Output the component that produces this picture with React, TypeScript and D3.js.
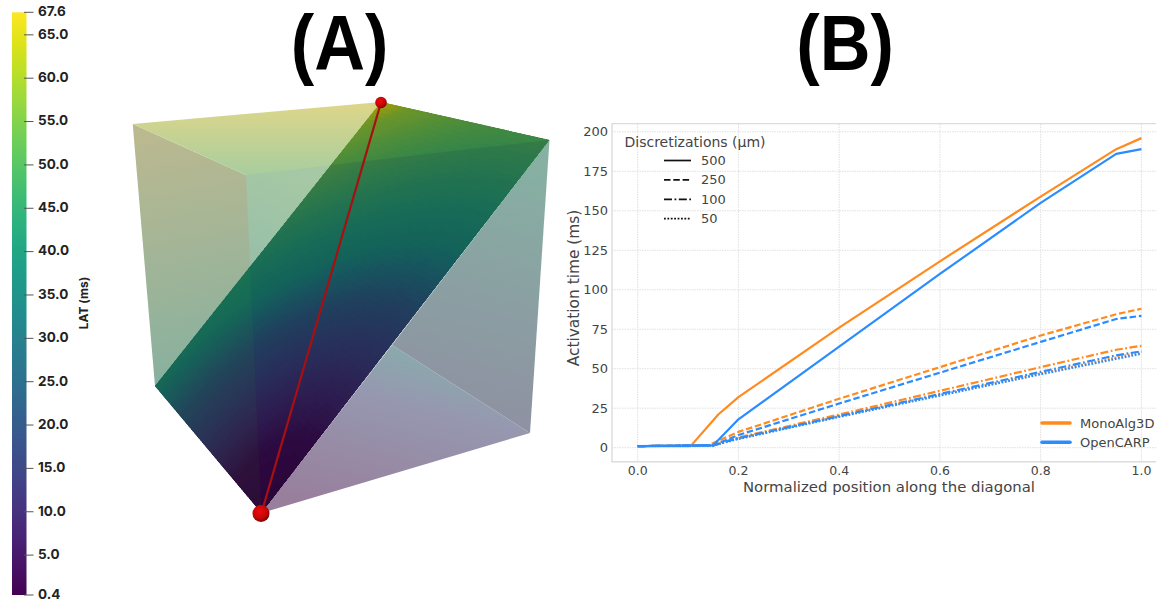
import React from "react";
import * as d3 from "d3";

// ---------- Panel B data ----------
const runs500M = [[0, 1], [0.105, 1], [0.16, 21], [0.2, 32], [0.4, 76], [0.6, 118], [0.8, 159], [0.95, 189], [1, 196]];
const runs500O = [[0, 1], [0.15, 1.5], [0.2, 18], [0.4, 64], [0.6, 110], [0.8, 155], [0.95, 186], [1, 189]];
const runs250M = [[0, 1], [0.14, 1.5], [0.2, 10], [0.4, 31], [0.6, 51], [0.8, 71], [0.95, 84.5], [1, 88]];
const runs250O = [[0, 1], [0.15, 1.5], [0.2, 8], [0.4, 28], [0.6, 47.5], [0.8, 67], [0.95, 81.5], [1, 83.5]];
const runs100M = [[0, 1], [0.15, 1.5], [0.2, 6.5], [0.4, 21], [0.6, 36], [0.8, 51], [0.95, 62], [1, 64.5]];
const runs100O = [[0, 1], [0.15, 1.5], [0.2, 6], [0.4, 20], [0.6, 34], [0.8, 48], [0.95, 58.5], [1, 61]];
const runs50M = [[0, 1], [0.15, 1.5], [0.2, 6], [0.4, 20], [0.6, 33.5], [0.8, 47], [1, 60.5]];
const runs50O = [[0, 1], [0.15, 1.5], [0.2, 5.5], [0.4, 19.5], [0.6, 33], [0.8, 46.5], [1, 59.5]];

const xTicks = [0, 0.2, 0.4, 0.6, 0.8, 1];
const yTicks = [0, 25, 50, 75, 100, 125, 150, 175, 200];
const discretizations = ["500", "250", "100", "50"];
const dashes = ["none", "6.5 2.8", "8 2.5 1.8 2.5", "1.8 1.6"];
const solvers = ["MonoAlg3D", "OpenCARP"];
const solverColors = ["#ff8a1e", "#2a8cff"];

// ---------- Panel A data ----------
const colorbarTicks = [67.6, 65, 60, 55, 50, 45, 40, 35, 30, 25, 20, 15, 10, 5, 0.4];
const latMin = 0.4;
const latMax = 67.6;
type P = [number, number];
const vLeftTop: P = [132.7, 124];
const vBackTop: P = [381, 102];
const vRightTop: P = [549.5, 140];
const vFrontTop: P = [246, 175];
const vLeftBottom: P = [155, 386];
const vBottom: P = [261.5, 513];
const vRightBottom: P = [530, 433];
const vBackBottom: P = [392, 345];
// activation delay: geometric distance on the slice -> colour-map position
const distanceStops = [0, 0.15, 0.44, 0.577, 0.816, 0.95, 1];
const colorStops = [0, 0.02, 0.3, 0.56, 0.74, 0.86, 1];

const pts = (a: P[]) => a.map((p) => p.join(",")).join(" ");

const xScale = d3.scaleLinear().domain([0, 1]).range([637.7, 1141.4]);
const yScale = d3.scaleLinear().domain([0, 200]).range([447.7, 131.8]);
const barScale = d3.scaleLinear().domain([latMin, latMax]).range([595, 12.3]);
const latColor = d3.scaleLinear().domain(distanceStops).range(colorStops);
const line = d3.line<number[]>().x((d) => xScale(d[0])).y((d) => yScale(d[1]));

const series = [
  { d: runs50M, s: 0, k: 3 }, { d: runs100M, s: 0, k: 2 }, { d: runs250M, s: 0, k: 1 }, { d: runs500M, s: 0, k: 0 },
  { d: runs50O, s: 1, k: 3 }, { d: runs100O, s: 1, k: 2 }, { d: runs250O, s: 1, k: 1 }, { d: runs500O, s: 1, k: 0 },
];

function sliceCells() {
  const n = 70;
  const cells: { points: string; fill: string }[] = [];
  const at = (a: number, b: number): P => {
    const top: P = [vLeftBottom[0] + (vBackTop[0] - vLeftBottom[0]) * b, vLeftBottom[1] + (vBackTop[1] - vLeftBottom[1]) * b];
    const bot: P = [vBottom[0] + (vRightTop[0] - vBottom[0]) * b, vBottom[1] + (vRightTop[1] - vBottom[1]) * b];
    return [bot[0] + (top[0] - bot[0]) * a, bot[1] + (top[1] - bot[1]) * a];
  };
  for (let i = 0; i < n; i++) {
    for (let j = 0; j < n; j++) {
      const a = (i + 0.5) / n;
      const b = (j + 0.5) / n;
      const t = Math.sqrt(a * a + 2 * b * b) / Math.sqrt(3);
      const c = d3.rgb(d3.interpolateViridis(latColor(t)));
      const k = 0.68;
      const fill = d3.rgb(c.r * k, c.g * k, c.b * k).formatHex();
      cells.push({
        points: pts([at(i / n, j / n), at((i + 1) / n, j / n), at((i + 1) / n, (j + 1) / n), at(i / n, (j + 1) / n)]),
        fill,
      });
    }
  }
  return cells;
}

const grad = (id: string, a: P, b: P, stops: [number, string][]) => (
  <linearGradient id={id} gradientUnits="userSpaceOnUse" x1={a[0]} y1={a[1]} x2={b[0]} y2={b[1]}>
    {stops.map(([o, c]) => (
      <stop key={o} offset={o} stopColor={c} />
    ))}
  </linearGradient>
);

const Title = ({ x, label }: { x: number; label: string }) => (
  <text transform={`translate(${x},69.5) scale(0.95,1.04)`} textAnchor="middle" fontFamily="Liberation Sans" fontWeight={700} fontSize={74} fill="#000">{label}</text>
);

export default function App() {
  const cells = sliceCells();
  const barStops = d3.range(0, 1.0001, 0.05);
  return (
    <svg width={1156} height={600} style={{ position: "absolute", left: 0, top: 0, background: "#fff" }}>
      <defs>
        <linearGradient id="bar" x1="0" y1="1" x2="0" y2="0">
          {barStops.map((t) => (
            <stop key={t} offset={t} stopColor={d3.interpolateViridis(t)} />
          ))}
        </linearGradient>
        {grad("fTop", [300, 105], [300, 178], [[0, "#dcd68a"], [1, "#a6cd9f"]])}
        {grad("fLeft", [140, 125], [190, 400], [[0, "#bdb98f"], [1, "#84b0a0"]])}
        {grad("fInner", [300, 175], [230, 320], [[0, "#a6c8a4"], [1, "#8fbaaa"]])}
        {grad("fBackR", [550, 150], [480, 430], [[0, "#86b2a2"], [1, "#8f90a2"]])}
        {grad("fBot", [300, 500], [340, 340], [[0, "#987f9c"], [0.73, "#9698b0"], [1, "#8ba8ac"]])}
        <radialGradient id="ball" cx="0.42" cy="0.38" r="0.62">
          <stop offset="0" stopColor="#ee0a0a" />
          <stop offset="0.65" stopColor="#c80606" />
          <stop offset="1" stopColor="#7a0404" />
        </radialGradient>
        <clipPath id="axesClip">
          <rect x={612} y={124} width={544} height={338} />
        </clipPath>
        <clipPath id="sliceClip">
          <polygon points={pts([vBottom, vLeftBottom, vBackTop, vRightTop])} />
        </clipPath>
      </defs>

      {/* Titles */}
      <Title x={339.5} label="(A)" />
      <Title x={845} label="(B)" />

      {/* Colour bar */}
      <rect x={12} y={barScale(latMax)} width={14.5} height={barScale(latMin) - barScale(latMax)} fill="url(#bar)" />
      {colorbarTicks.map((v) => (
        <g key={v}>
          <line x1={24} x2={33.5} y1={barScale(v)} y2={barScale(v)} stroke="#555" strokeWidth={1} />
          <text x={38} y={barScale(v) - 1} dy="0.36em" textAnchor="start" fontFamily="Inter" fontWeight={700} fontSize={13.5} fill="#222">{v.toFixed(1)}</text>
        </g>
      ))}
      <text transform="translate(88,303) rotate(-90)" textAnchor="middle" fontFamily="Inter" fontWeight={700} fontSize={12} fill="#222">LAT (ms)</text>

      {/* Cube: back faces, slice, front faces */}
      <polygon points={pts([vBottom, vRightBottom, vBackBottom])} fill="url(#fBot)" />
      <polygon points={pts([vBackBottom, vRightBottom, vRightTop])} fill="url(#fBackR)" />
      <polygon points={pts([vFrontTop, vBackTop, vLeftBottom])} fill="url(#fInner)" />
      <polygon points={pts([vLeftTop, vFrontTop, vBottom, vLeftBottom])} fill="url(#fLeft)" />
      <polygon points={pts([vLeftTop, vBackTop, vRightTop, vFrontTop])} fill="url(#fTop)" />
      <g clipPath="url(#sliceClip)">
        {cells.map((c, i) => (
          <polygon key={i} points={c.points} fill={c.fill} stroke={c.fill} strokeWidth={1.5} shapeRendering="crispEdges" />
        ))}
        {/* the cube's transparent front faces tint the slice behind them */}
        <polygon points={pts([vFrontTop, vRightTop, vRightBottom, vBottom])} fill="#102a48" opacity={0.12} />
        <polygon points={pts([vLeftTop, vFrontTop, vBottom, vLeftBottom])} fill="#1c5a30" opacity={0.14} />
      </g>

      {/* Diagonal */}
      <line x1={vBottom[0]} y1={vBottom[1]} x2={381} y2={102.5} stroke="#a80f10" strokeWidth={2.2} />
      <circle cx={381} cy={102.5} r={5.8} fill="url(#ball)" />
      <circle cx={261} cy={513.5} r={8.5} fill="url(#ball)" />

      {/* Panel B: grid */}
      {xTicks.map((t) => (
        <line key={t} x1={xScale(t)} x2={xScale(t)} y1={124} y2={461} stroke="#dcdcdc" strokeWidth={0.9} strokeDasharray="1.5 1" />
      ))}
      {yTicks.map((t) => (
        <line key={t} x1={612} x2={1156} y1={yScale(t)} y2={yScale(t)} stroke="#dcdcdc" strokeWidth={0.9} strokeDasharray="1.5 1" />
      ))}
      {/* spines */}
      <path d="M612,461.8 L612,123.6 L1156,123.6" fill="none" stroke="#dcdcdc" strokeWidth={1.4} />
      <path d="M611.3,461.8 L1156,461.8" fill="none" stroke="#dcdcdc" strokeWidth={1.6} />

      {/* Lines */}
      <g clipPath="url(#axesClip)">
        {series.map((s, i) => (
          <path key={i} d={line(s.d) as string} fill="none" stroke={solverColors[s.s]} strokeWidth={2.2} strokeDasharray={dashes[s.k]} strokeLinejoin="round" />
        ))}
      </g>

      {/* Tick labels */}
      {xTicks.map((t) => (
        <text key={t} x={xScale(t)} y={475} textAnchor="middle" fontFamily="DejaVu Sans" fontSize={12.5} fill="#444">{t.toFixed(1)}</text>
      ))}
      {yTicks.map((t) => (
        <text key={t} x={608} y={yScale(t)} dy="0.36em" textAnchor="end" fontFamily="DejaVu Sans" fontSize={13} fill="#444">{t}</text>
      ))}
      <text x={889} y={492} textAnchor="middle" fontFamily="DejaVu Sans" fontSize={14.9} fill="#444">Normalized position along the diagonal</text>
      <text transform="translate(578.5,288) rotate(-90)" textAnchor="middle" fontFamily="DejaVu Sans" fontSize={15.4} fill="#444">Activation time (ms)</text>

      {/* Legends */}
      <text x={624.5} y={146.5} fontFamily="DejaVu Sans" fontSize={14} fill="#444">Discretizations (µm)</text>
      {discretizations.map((d, i) => (
        <g key={d}>
          <line x1={664} x2={691} y1={160.5 + i * 19.4} y2={160.5 + i * 19.4} stroke="#111" strokeWidth={1.7} strokeDasharray={dashes[i]} />
          <text x={701} y={165 + i * 19.4} fontFamily="DejaVu Sans" fontSize={13} fill="#444">{d}</text>
        </g>
      ))}
      {solvers.map((s, i) => (
        <g key={s}>
          <line x1={1042} x2={1070} y1={423 + i * 19.3} y2={423 + i * 19.3} stroke={solverColors[i]} strokeWidth={3.6} strokeLinecap="round" />
          <text x={1080} y={427.5 + i * 19.3} fontFamily="DejaVu Sans" fontSize={13} fill="#444">{s}</text>
        </g>
      ))}
    </svg>
  );
}
